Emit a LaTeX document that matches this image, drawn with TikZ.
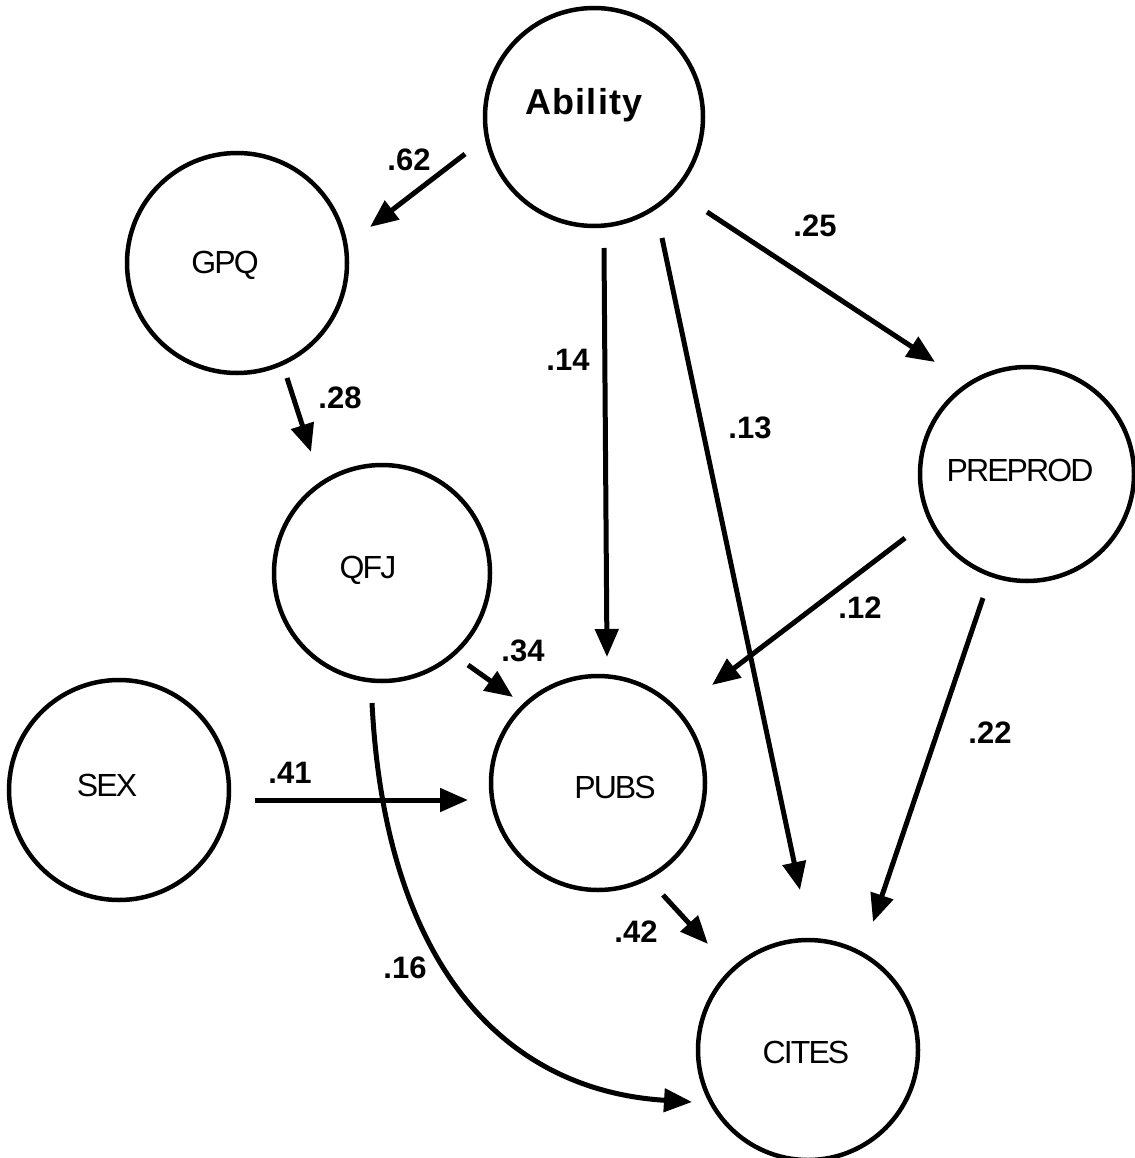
\documentclass[tikz,border=0pt]{standalone}
\usepackage{fontspec}
\setmainfont{Liberation Sans}
\newfontfamily\capsfont{Liberation Sans}[LetterSpace=-6]
\newfontfamily\abfont{Liberation Sans}[LetterSpace=3]
\usetikzlibrary{arrows.meta,calc}
\tikzset{
  var/.style={circle,draw,line width=4.5pt,inner sep=0pt,minimum size=#1},
  vtext/.style={font=\capsfont\fontsize{32}{32}\selectfont},
  arr/.style={line width=5pt,-{Triangle[length=28pt,width=23pt]}},
  coef/.style={font=\bfseries\fontsize{31}{31}\selectfont,inner sep=0pt}
}
\begin{document}
\begin{tikzpicture}[x=1pt,y=-1pt]
\useasboundingbox[fill=white] (0,0) rectangle (1134,1158);
% variables
\node[var=218pt,label={[font=\abfont\bfseries\fontsize{36}{36}\selectfont,xshift=-10pt,yshift=12pt]center:Ability}] (ab) at (594,117) {};
\node[var=220pt,label={[vtext,xshift=-12pt,yshift=-2pt]center:GPQ}] (gpq) at (237,263) {};
\node[var=216pt,label={[vtext,xshift=-14pt,yshift=3pt]center:QFJ}] (qfj) at (382,573) {};
\node[var=220pt,label={[vtext,xshift=-12pt,yshift=5pt]center:SEX}] (sex) at (119,790) {};
\node[var=214pt,label={[vtext,xshift=17pt,yshift=-4pt]center:PUBS}] (pubs) at (598,783) {};
\node[var=214pt,label={[vtext,xshift=-7pt,yshift=4pt]center:PREPROD}] (pre) at (1027,474) {};
\node[var=220pt,label={[vtext,xshift=-2pt,yshift=-2pt]center:CITES}] (cit) at (808,1050) {};
% paths
\draw[arr] ($(ab)+(-129,37)$) -- ($(gpq)+(133,-36)$);
\draw[arr] ($(ab)+(10,131)$) -- ($(pubs)+(9,-126)$);
\draw[arr] ($(ab)+(68,121)$) -- ($(cit)+(-8,-160)$);
\draw[arr] ($(ab)+(113,95)$) -- ($(pre)+(-92,-112)$);
\draw[arr] ($(gpq)+(50,115)$) -- ($(qfj)+(-71,-121)$);
\draw[arr] ($(qfj)+(86,92)$) -- ($(pubs)+(-85,-86)$);
\draw[arr] ($(sex)+(136,10)$) -- ($(pubs)+(-130,17)$);
\draw[arr] ($(pre)+(-122,64)$) -- ($(pubs)+(114,-98)$);
\draw[arr] ($(pre)+(-44,124)$) -- ($(cit)+(65,-128)$);
\draw[arr] ($(pubs)+(65,112)$) -- ($(cit)+(-100,-106)$);
\draw[arr] ($(qfj)+(-10,130)$) .. controls (385,960) and (500,1090) .. ($(cit)+(-116,52)$);
% coefficients
\node[coef] (c62) at (409,160) {.62};
\node[coef] (c25) at (815,226) {.25};
\node[coef] (c14) at (568,360) {.14};
\node[coef] (c13) at (750,428) {.13};
\node[coef] (c28) at (340,398) {.28};
\node[coef] (c34) at (523,651) {.34};
\node[coef] (c12) at (860,608) {.12};
\node[coef] (c22) at (990,733) {.22};
\node[coef] (c41) at (290,773) {.41};
\node[coef] (c42) at (636,932) {.42};
\node[coef] (c16) at (405,968) {.16};
\end{tikzpicture}
\end{document}
